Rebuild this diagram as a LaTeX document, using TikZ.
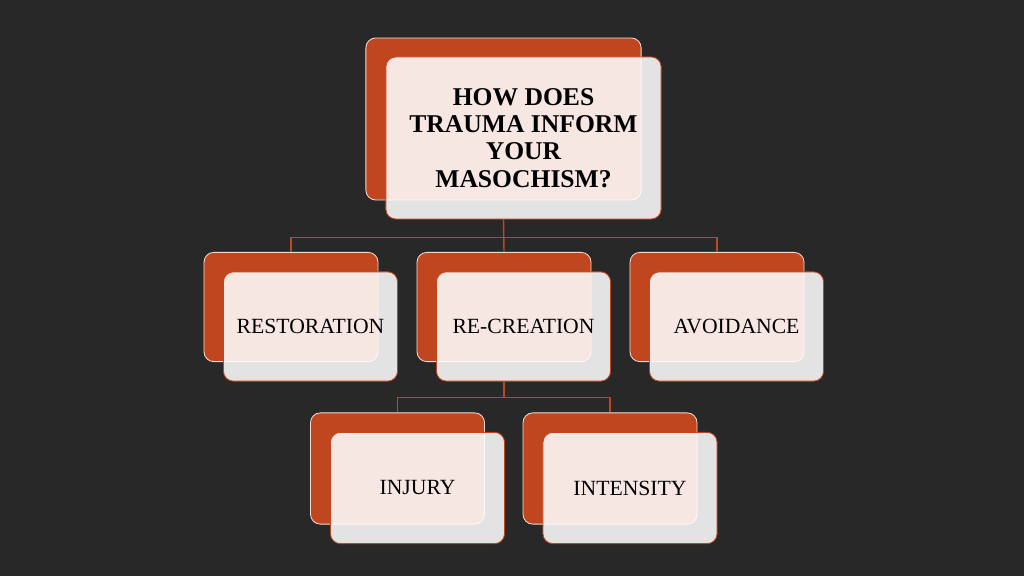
\documentclass[tikz,border=0pt]{standalone}
\usepackage{fontspec}
\setmainfont{Liberation Serif}
\usetikzlibrary{positioning}
\definecolor{rust}{HTML}{BF461F}
\definecolor{slate}{HTML}{282828}
\tikzset{
	back/.style={
			draw=white!80!rust,
			line width=0.6pt,
			fill=rust,
			rounded corners=7pt,
			minimum width=4.35cm,
			minimum height=2.73cm
		},
	front/.style={
			draw=rust,
			line width=0.6pt,
			fill=white,
			fill opacity=0.87,
			text opacity=1,
			rounded corners=7pt,
			minimum width=4.35cm,
			minimum height=2.73cm,
			align=center,
			font=\fontsize{15.4}{17}\selectfont
		},
	link/.style={draw=rust, line width=1pt}
}

\begin{document}
\begin{tikzpicture}[x=0.025cm,y=-0.025cm]
			\fill[slate] (0,0) rectangle (1024,576);
			\useasboundingbox (0,0) rectangle (1024,576);

			% question
			\node[back, minimum width=6.88cm, minimum height=4.05cm] at (503.5,119) (qback) {};
			% answers
			\node[back] at (291,307) (restback) {};
			\node[back] at (504,307) (recback) {};
			\node[back] at (717,307) (avoidback) {};
			\node[back, minimum height=2.78cm] at (397.5,468.5) (injback) {};
			\node[back, minimum height=2.78cm] at (610,468.5) (intback) {};

			\node[front, minimum width=6.88cm, minimum height=4.05cm, font=\bfseries\fontsize{18.2}{19.4}\selectfont] at (523.5,138) (qfront) {HOW DOES\\TRAUMA INFORM\\YOUR\\MASOCHISM?};
			\node[front] at (310.5,326.5) (restfront) {RESTORATION};
			\node[front] at (523.5,326.5) (recfront) {RE-CREATION};
			\node[front] at (736.5,326.5) (avoidfront) {AVOIDANCE};
			\node[front, minimum height=2.78cm] at (417.5,488) (injfront) {INJURY};
			\node[front, minimum height=2.78cm] at (630,488) (intfront) {INTENSITY};

			\draw[link] (qback.south |- qfront.south) -- ++(0,18) -| (restback.north);
			\draw[link] (qback.south |- qfront.south) -- ++(0,18) -| (avoidback.north);
			\draw[link] (qback.south |- qfront.south) -- (recback.north);
			\draw[link] (recback.south |- recfront.south) -- ++(0,16) -| (injback.north);
			\draw[link] (recback.south |- recfront.south) -- ++(0,16) -| (intback.north);
		\end{tikzpicture}
\end{document}
